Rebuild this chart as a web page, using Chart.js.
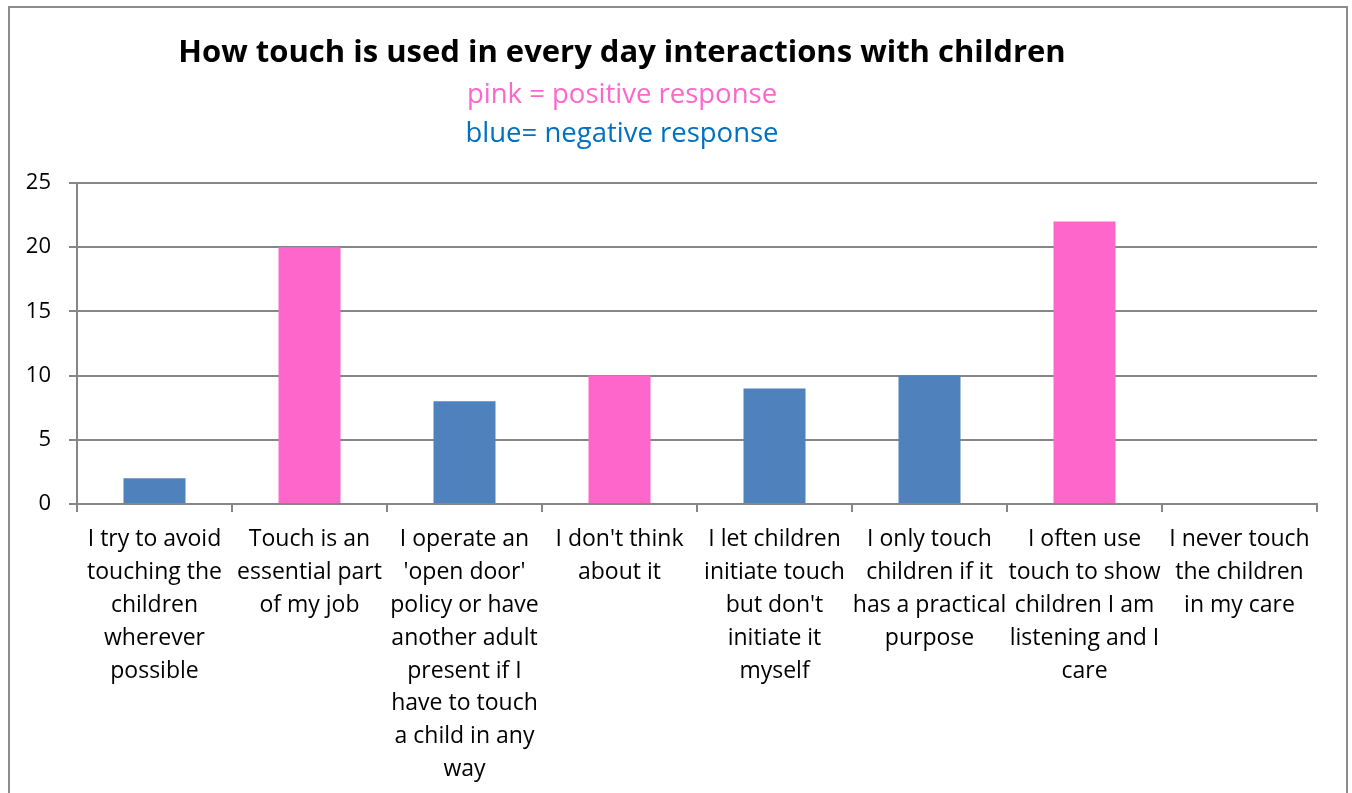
<!DOCTYPE html>
<html>
<head>
<meta charset="utf-8">
<title>How touch is used in every day interactions with children</title>
<script src="https://cdn.jsdelivr.net/npm/chart.js@4.4.1/dist/chart.umd.min.js"></script>
<style>
  html, body { margin: 0; padding: 0; background: #fff; overflow: hidden; }
  #wrap { position: relative; width: 1352px; height: 793px; }
  #frame { position: absolute; left: 8px; top: 6px; width: 1336px; height: 820px; border: 2px solid #8c8c8c; }
  canvas { position: absolute; left: 0; top: 0; }
</style>
</head>
<body>
<div id="wrap">
  <div id="frame"></div>
  <canvas id="touchChart" width="1352" height="793"></canvas>
</div>
<script>
// answers, wrapped the way they appear under each bar
const categories = [
    ['I try to avoid', 'touching the', 'children', 'wherever', 'possible'],
    ['Touch is an', 'essential part', 'of my job'],
    ['I operate an', "'open door'", 'policy or have', 'another adult', 'present if I', 'have to touch', 'a child in any', 'way'],
    ["I don't think", 'about it'],
    ['I let children', 'initiate touch', "but don't", 'initiate it', 'myself'],
    ['I only touch', 'children if it', 'has a practical', 'purpose'],
    ['I often use', 'touch to show', 'children I am', 'listening and I', 'care'],
    ['I never touch', 'the children', 'in my care']
];
const responses = [2, 20, 8, 10, 9, 10, 22, 0];
const positive = [false, true, false, true, false, false, true, false];
const yTicks = [0, 5, 10, 15, 20, 25];

const titleText = 'How touch is used in every day interactions with children';
const keyLines = ['pink = positive response', 'blue= negative response'];

const PINK = '#ff66cc';
const BLUE = '#4f81bd';
const GRID = '#868686';
const FONT = "'Open Sans', 'Noto Sans', sans-serif";

// title block sits left of the plot centre, as in the workbook
const titlePlugin = {
    id: 'titleBlock',
    afterDraw(chart) {
        const ctx = chart.ctx;
        const cx = 622;
        ctx.save();
        ctx.textAlign = 'center';
        ctx.textBaseline = 'alphabetic';
        ctx.fillStyle = '#000';
        ctx.font = 'bold 31px ' + FONT;
        ctx.fillText(titleText, cx, 62);
        ctx.font = '27.5px ' + FONT;
        ctx.fillStyle = PINK;
        ctx.fillText(keyLines[0], cx, 103);
        ctx.fillStyle = '#0070c0';
        ctx.fillText(keyLines[1], cx, 142);
        ctx.restore();
    }
};

new Chart(document.getElementById('touchChart'), {
    type: 'bar',
    data: {
        labels: categories,
        datasets: [{
            data: responses,
            backgroundColor: positive.map(p => p ? PINK : BLUE),
            borderWidth: 0,
            barPercentage: 0.4,
            categoryPercentage: 1
        }]
    },
    options: {
        responsive: false,
        animation: false,
        layout: { padding: { top: 183, right: 35, left: 0, bottom: 0 } },
        plugins: {
            legend: { display: false },
            tooltip: { enabled: false }
        },
        scales: {
            x: {
                grid: { display: true, drawOnChartArea: false, offset: true, color: GRID, lineWidth: 2, tickLength: 8 },
                border: { color: GRID, width: 2 },
                ticks: {
                    color: '#000',
                    font: { family: FONT, size: 23, lineHeight: 1.43 },
                    maxRotation: 0,
                    autoSkip: false,
                    padding: 11
                },
                afterFit(scale) { scale.height = 793 - 504; }
            },
            y: {
                min: 0,
                max: 25,
                afterBuildTicks(scale) { scale.ticks = yTicks.map(v => ({ value: v })); },
                grid: { color: GRID, lineWidth: 2, tickLength: 8 },
                border: { color: GRID, width: 2 },
                ticks: {
                    color: '#000',
                    font: { family: FONT, size: 22 },
                    padding: 18
                },
                afterFit(scale) { scale.width = 77; }
            }
        }
    },
    plugins: [titlePlugin]
});
</script>
</body>
</html>
